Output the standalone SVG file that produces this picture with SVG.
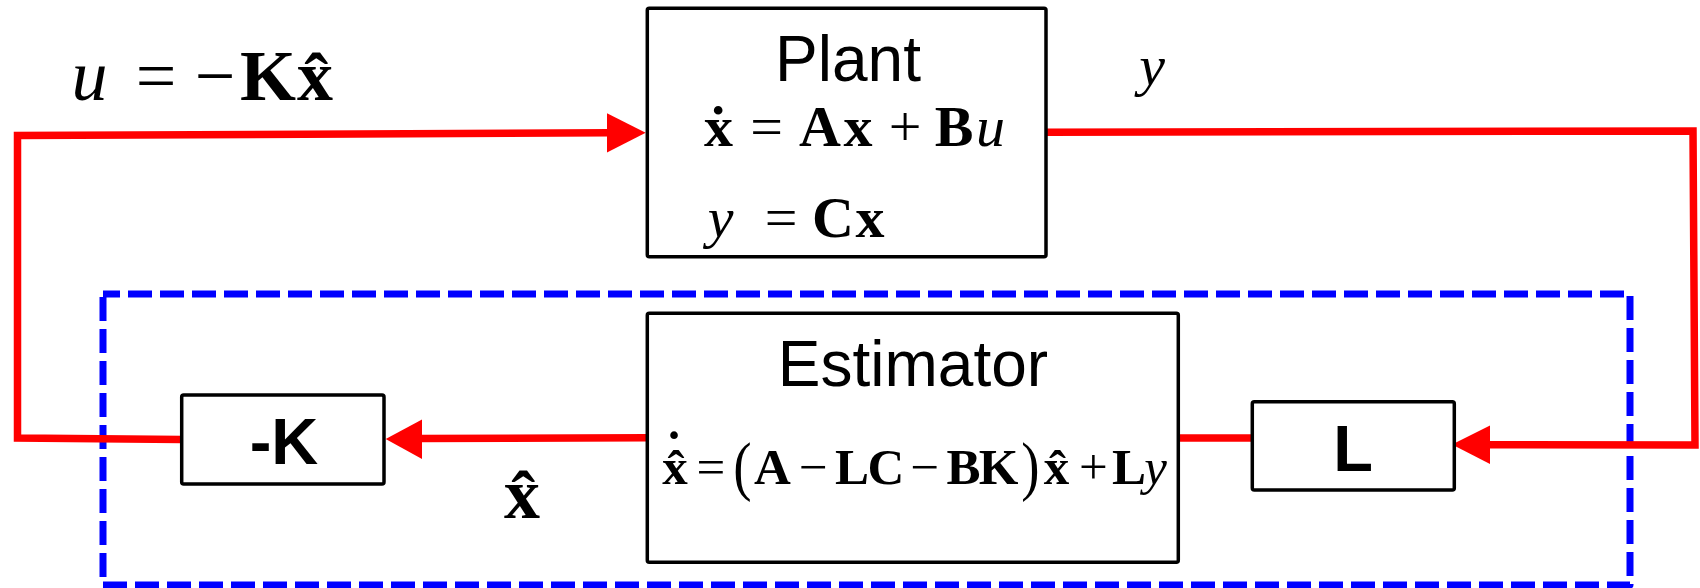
<svg xmlns="http://www.w3.org/2000/svg" width="1700" height="588" viewBox="0 0 1700 588">
<style>
.box{fill:#fff;stroke:#000;stroke-width:3.5;stroke-linejoin:round}
.wire{fill:none;stroke:#FF0000;stroke-width:7.5;stroke-linejoin:miter}
.head{fill:#FF0000;stroke:none}
.dash{fill:none;stroke:#0000FF;stroke-width:7;stroke-dasharray:24 8;stroke-dashoffset:7;stroke-linejoin:round}
.sans{font-family:"Liberation Sans",Arial,sans-serif;fill:#000;text-anchor:middle}
.m{font-family:"Liberation Serif","Times New Roman",serif;fill:#000;text-anchor:middle}
.b{font-weight:bold}
.i{font-style:italic}
</style>
<path class="dash" d="M103,294 H1630 V585 H103 Z"/>
<g id="connectors">
<path class="wire" d="M1047,132.3 L1693,131 L1695,445 L1488,444.7"/>
<polygon class="head" points="1452,444.5 1490,425.5 1490,464"/>
<path class="wire" d="M1178,438 L1252,438"/>
<path class="wire" d="M647,437.8 L419,438.6"/>
<polygon class="head" points="385.7,439 422,419.5 422,459"/>
<path class="wire" d="M181.7,439.5 L17.5,438 L17.5,135.5 L609,132.8"/>
<polygon class="head" points="645.7,132.7 607,113.3 607,152.6"/>
</g>
<g id="plant">
<rect class="box" x="647.3" y="8.3" width="398.7" height="248.4" rx="2"/>
<text class="sans" x="848" y="81" font-size="64">Plant</text>
<g class="m" font-size="58">
<text class="b" x="718.5" y="145.7">ẋ</text>
<text x="766.5" y="145.7">=</text>
<text class="b" x="820" y="145.7">A</text>
<text class="b" x="858" y="145.7">x</text>
<text x="905" y="145.7">+</text>
<text class="b" x="954" y="145.7">B</text>
<text class="i" x="990.5" y="145.7">u</text>
<text class="i" x="720.5" y="237">y</text>
<text x="781" y="237">=</text>
<text class="b" x="833" y="237">C</text>
<text class="b" x="870" y="237">x</text>
</g>
</g>
<g id="estimator">
<rect class="box" x="647.3" y="313.3" width="531" height="249" rx="2"/>
<text class="sans" x="913" y="386" font-size="64">Estimator</text>
<g class="m" font-size="51">
<text class="b" x="674" y="467">˙</text>
<text class="b" x="675" y="484.3">x̂</text>
<text x="711" y="484.3">=</text>
<text transform="translate(742.5,487.5) scale(1,1.2)" font-size="55">(</text>
<text class="b" x="772.5" y="484.3">A</text>
<text x="813.5" y="484.3">−</text>
<text class="b" x="852" y="484.3">L</text>
<text class="b" x="886" y="484.3">C</text>
<text x="925" y="484.3">−</text>
<text class="b" x="963.5" y="484.3">B</text>
<text class="b" x="998.5" y="484.3">K</text>
<text transform="translate(1030.5,487.5) scale(1,1.2)" font-size="55">)</text>
<text class="b" x="1056.5" y="484.3">x̂</text>
<text x="1093.5" y="484.3">+</text>
<text class="b" x="1129" y="484.3">L</text>
<text class="i" x="1155.5" y="484.3">y</text>
</g>
</g>
<g id="gainK">
<rect class="box" x="181.7" y="395" width="202.3" height="89" rx="2"/>
<text class="sans b" x="284" y="464.3" font-size="65">-K</text>
</g>
<g id="gainL">
<rect class="box" x="1252.3" y="401.7" width="202" height="88.3" rx="2"/>
<text class="sans b" x="1353" y="470.7" font-size="65">L</text>
</g>
<g id="labels" class="m" font-size="72">
<text class="i" x="89.5" y="100">u</text>
<text x="156" y="100">=</text>
<text x="215" y="100">−</text>
<text class="b" x="268" y="100">K</text>
<text class="b" x="315" y="100">x̂</text>
<text class="i" x="1152" y="85" font-size="58">y</text>
<text class="b" x="522" y="518.3">x̂</text>
</g>
</svg>
